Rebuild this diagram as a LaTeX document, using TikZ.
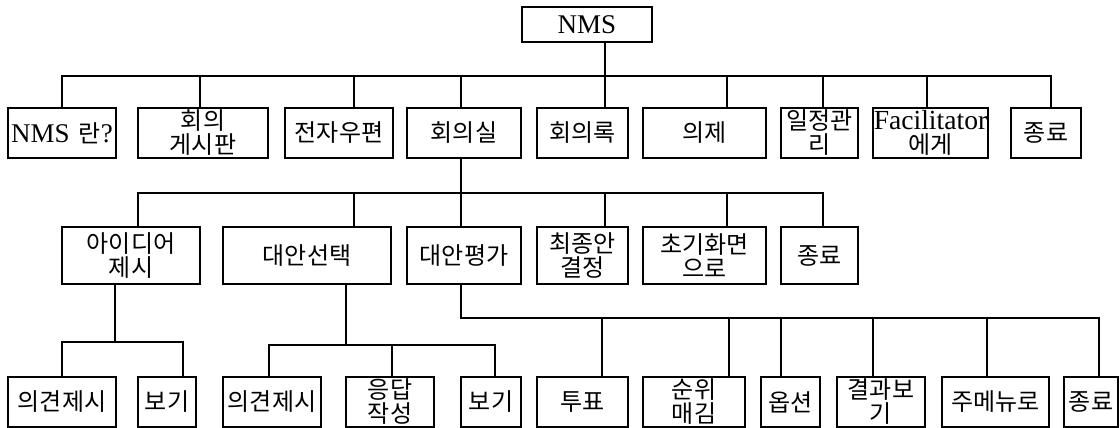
\documentclass[tikz,border=0pt]{standalone}
\usepackage{fontspec}
\setmainfont{Liberation Serif}
\newfontfamily\kr{Noto Sans CJK KR}
\newcommand{\eng}[1]{{\rmfamily\fontsize{13.5}{14}\selectfont #1}}

\tikzset{
  box/.style={draw, line width=0.8pt, inner sep=0pt, align=center,
    font=\kr\fontsize{12}{12}\selectfont},
  wire/.style={line width=0.8pt, line cap=rect},
  top row/.style={box, minimum height=25pt},
  mid row/.style={box, minimum height=28.5pt},
  low row/.style={box, minimum height=25pt}
}

\begin{document}
\begin{tikzpicture}[x=0.5pt, y=-0.5pt]
    \useasboundingbox (0,0) rectangle (1120,428);

    \node[box, minimum width=65pt, minimum height=17.5pt] (nms) at (587,24.5) {\eng{NMS}};

    \node[top row, minimum width=54pt] (intro) at (62,133) {\eng{NMS}\, 란\eng{?}};
    \node[top row, minimum width=65pt] (board) at (203,133) {회의\\게시판};
    \node[top row, minimum width=54pt] (mail) at (339,133) {전자우편};
    \node[top row, minimum width=57pt] (room) at (464,133) {회의실};
    \node[top row, minimum width=45.5pt] (minutes) at (582.5,133) {회의록};
    \node[top row, minimum width=61.5pt] (agenda) at (704.5,133) {의제};
    \node[top row, minimum width=38.5pt] (sched) at (819.5,133) {일정관\\리};
    \node[top row, minimum width=57.5pt] (facil) at (930.5,133) {{\rmfamily\fontsize{13.8}{14}\selectfont Facilitator}\\에게};
    \node[top row, minimum width=35pt] (quit) at (1046,133) {종료};

    \node[mid row, minimum width=69pt] (idea) at (131,255.5) {아이디어\\제시};
    \node[mid row, minimum width=84pt] (choose) at (307,255.5) {대안선택};
    \node[mid row, minimum width=57pt] (judge) at (464,255.5) {대안평가};
    \node[mid row, minimum width=45.5pt] (final) at (582.5,255.5) {최종안\\결정};
    \node[mid row, minimum width=61.5pt] (home) at (704.5,255.5) {초기화면\\으로};
    \node[mid row, minimum width=38.5pt] (quitb) at (819.5,255.5) {종료};

    \node[low row, minimum width=54pt] (opina) at (62,402) {의견제시};
    \node[low row, minimum width=29pt] (viewa) at (167,402) {보기};
    \node[low row, minimum width=49pt] (opinb) at (272,402) {의견제시};
    \node[low row, minimum width=44pt] (reply) at (390,402) {응답\\작성};
    \node[low row, minimum width=30pt] (viewb) at (491,402) {보기};
    \node[low row, minimum width=45.5pt] (vote) at (582.5,402) {투표};
    \node[low row, minimum width=51pt] (rank) at (694,402) {순위\\매김};
    \node[low row, minimum width=29.5pt] (option) at (790.5,402) {옵션};
    \node[low row, minimum width=44pt] (result) at (881,402) {결과보\\기};
    \node[low row, minimum width=53.5pt] (menu) at (995.5,402) {주메뉴로};
    \node[low row, minimum width=27pt] (quitc) at (1091,402) {종료};

    \coordinate (busa w) at (62,76);
    \coordinate (busa e) at (1051,76);
    \coordinate (busb w) at (138,193);
    \coordinate (busb e) at (823,193);
    \coordinate (busc w) at (62,342);
    \coordinate (busc e) at (183,342);
    \coordinate (busd w) at (269,345);
    \coordinate (busd e) at (495,345);
    \coordinate (buse w) at (461,318);
    \coordinate (buse e) at (1099,318);

    \draw[wire] (busa w) -- (busa e);
    \draw[wire] (busb w) -- (busb e);
    \draw[wire] (busc w) -- (busc e);
    \draw[wire] (busd w) -- (busd e);
    \draw[wire] (buse w) -- (buse e);

    \draw[wire] (nms.south -| 605,0) -- (minutes.north -| 605,0);
    \foreach \n/\x in {intro/62, board/200, mail/354, room/461, agenda/727, sched/823, facil/927, quit/1051}
    \draw[wire] (\n.north -| \x,0) -- (busa w -| \x,0);

    \draw[wire] (room.south -| 461,0) -- (judge.north -| 461,0);
    \foreach \n/\x in {idea/138, choose/354, final/605, home/727, quitb/823}
    \draw[wire] (\n.north -| \x,0) -- (busb w -| \x,0);

    \draw[wire] (idea.south -| 115,0) -- (busc w -| 115,0);
    \foreach \n/\x in {opina/62, viewa/183}
    \draw[wire] (\n.north -| \x,0) -- (busc w -| \x,0);

    \draw[wire] (choose.south -| 346,0) -- (busd w -| 346,0);
    \foreach \n/\x in {opinb/269, reply/392, viewb/495}
    \draw[wire] (\n.north -| \x,0) -- (busd w -| \x,0);

    \draw[wire] (judge.south -| buse w) -- (buse w);
    \foreach \n/\x in {vote/602, rank/729, option/781, result/873, menu/987, quitc/1099}
    \draw[wire] (\n.north -| \x,0) -- (buse w -| \x,0);
\end{tikzpicture}
\end{document}
